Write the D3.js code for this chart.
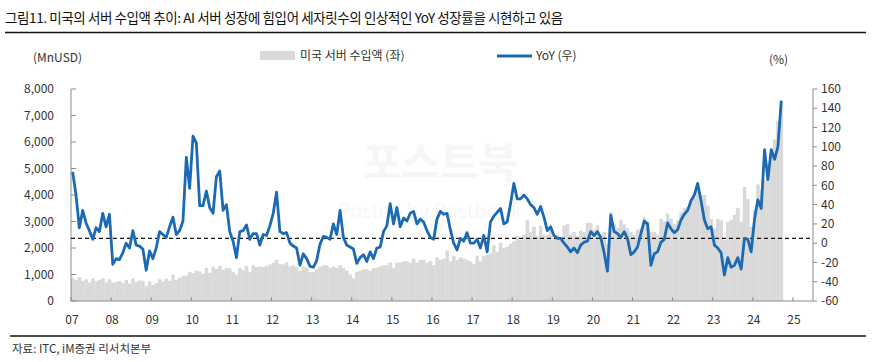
<!DOCTYPE html>
<html>
<head>
<meta charset="utf-8">
<script src="https://cdn.jsdelivr.net/npm/d3@7"></script>
<style>
  body { margin: 0; background: #fff; }
  svg text { font-family: "Noto Sans CJK KR", "Noto Sans", sans-serif; fill: #333; }
</style>
</head>
<body>
<svg id="chart" width="872" height="362"></svg>
<script>
// 월별 미국 서버 수입액 (MnUSD), 2007.01 ~ 2024.09
const importValues = [
  880, 800, 900, 760, 820, 700, 860, 740, 800, 860, 700, 820,        // 07
  700, 720, 760, 680, 800, 660, 860, 720, 780, 760, 560, 740,        // 08
  600, 680, 820, 740, 840, 760, 1000, 800, 880, 940, 960, 1100,      // 09
  1050, 1150, 1120, 1030, 1250, 1060, 1300, 1200, 1320, 1180, 1250, 1230, // 10
  1100, 1000, 1250, 1160, 1320, 1100, 1350, 1280, 1300, 1280, 1330, 1380, // 11
  1450, 1550, 1400, 1380, 1460, 1300, 1350, 1280, 1150, 1300, 1250, 1100, // 12
  1100, 1200, 1300, 1350, 1350, 1250, 1300, 1250, 1350, 1250, 1150, 1000, // 13
  850, 1100, 1150, 1200, 1200, 1150, 1250, 1250, 1300, 1350, 1350, 1450,  // 14
  1250, 1450, 1450, 1500, 1500, 1450, 1600, 1450, 1550, 1550, 1450, 1500, // 15
  1350, 1650, 1550, 1600, 1900, 1500, 1700, 1550, 1650, 1600, 1550, 1500, // 16
  1400, 1700, 1500, 1700, 1750, 1800, 2100, 1850, 2200, 2000, 2050, 2150, // 17
  2250, 2450, 2300, 2500, 3050, 2600, 2800, 2450, 2850, 2500, 2500, 2650, // 18
  2450, 2500, 2400, 2850, 2900, 2500, 2600, 2450, 2650, 2600, 2950, 2950, // 19
  2700, 2850, 2500, 2600, 2150, 3350, 2900, 2750, 3050, 2900, 2750, 2600, // 20
  2500, 2700, 2750, 3150, 3000, 2600, 2600, 2500, 3100, 3000, 3300, 3100, // 21
  2900, 3050, 3350, 3500, 3550, 3700, 3900, 4150, 4000, 4000, 3600, 3100, // 22
  2750, 3100, 3050, 2300, 3000, 3050, 3250, 3500, 3000, 4300, 3850, 2800, // 23
  3450, 4400, 4150, 4550, 5000, 5600, 6100, 6800, 7400                    // 24
];

// YoY (%)
const yoyValues = [
  74, 50, 16, 34, 21, 13, 4, 16, 12, 31, 17, 30,
  -22, -16, -17, -10, 0, -5, 13, -2, -3, -6, -28, -8,
  -16, -5, 12, 9, 6, 17, 27, 9, 13, 23, 89, 57,
  111, 104, 39, 39, 54, 37, 31, 69, 75, 34, 40, 12,
  2, -15, 12, 13, 19, 4, 10, 10, -2, 9, 8, 18,
  31, 53, 12, 10, 11, 0, -3, -5, -23, -11, -16, -24,
  -25, -18, -1, 7, 6, 4, 20, 9, 34, 6, -2, -4,
  -6, -21, -15, -12, -19, -9, -16, -5, -4, 12, 18, 41,
  20, 37, 17, 26, 23, 31, 33, 20, 25, 22, 13, 6,
  4, 25, 33, 30, 31, 14, 0, -7, 5, 2, 11, 0,
  0, 4, -5, 8, -9, 22, 28, 32, 36, 20, 22, 41,
  62, 46, 46, 50, 46, 40, 37, 30, 38, 27, 13, 17,
  8, 5, 5, 0, -4, -9, -5, -10, -2, 1, 2, 12,
  8, 12, 6, -10, -29, 29, 12, 10, 6, 12, 5, -12,
  -9, -4, 10, 23, 20, -23, -11, -9, 1, 4, 21, 15,
  11, 14, 24, 30, 34, 44, 50, 62, 44, 24, 15, 17,
  -2, -5, -10, -33, -15, -25, -23, -15, -27, 5, 4, -9,
  25, 45, 36, 97, 66, 97, 87, 100, 148
];

const yearLabels = ["07","08","09","10","11","12","13","14","15","16","17","18","19","20","21","22","23","24","25"];
const leftTicks = [0, 1000, 2000, 3000, 4000, 5000, 6000, 7000, 8000];
const rightTicks = [-60, -40, -20, 0, 20, 40, 60, 80, 100, 120, 140, 160];
const yoyReference = 5;

const svg = d3.select("#chart");
const plotLeft = 71, plotRight = 813, plotTop = 89, plotBottom = 301;
const barColor = "#d9d9d9", lineColor = "#1b6ab3", axisColor = "#8c8c8c";

// 월 인덱스 기준 (0 = 2007년 1월), 2025년 중반까지
const x = d3.scaleLinear().domain([0, 222]).range([plotLeft, plotRight]);
const yLeft = d3.scaleLinear().domain([0, 8000]).range([plotBottom, plotTop]);
const yRight = d3.scaleLinear().domain([-60, 160]).range([plotBottom, plotTop]);

// 제목 + 구분선
svg.append("text")
    .attr("x", 5).attr("y", 23)
    .style("font-size", "13.5px")
    .style("letter-spacing", "-0.4px")
    .style("fill", "#111")
    .text("그림11. 미국의 서버 수입액 추이: AI 서버 성장에 힘입어 세자릿수의 인상적인 YoY 성장률을 시현하고 있음");
svg.append("line").attr("x1", 5).attr("x2", 866).attr("y1", 32.5).attr("y2", 32.5)
    .attr("stroke", "#111").attr("stroke-width", 1.5);

// 워터마크 (아주 흐리게)
svg.append("text").attr("x", 440).attr("y", 178).attr("text-anchor", "middle")
    .style("font-size", "42px").style("font-weight", "bold").style("fill", "#f6f6f6")
    .text("포스트북");
svg.append("text").attr("x", 430).attr("y", 218).attr("text-anchor", "middle")
    .style("font-size", "20px").style("fill", "#f7f7f7")
    .text("Posted by Postbook");

// 막대
svg.append("g")
    .selectAll("rect")
    .data(importValues)
    .join("rect")
    .attr("x", (d, i) => x(i))
    .attr("width", (d, i) => x(i + 1) - x(i) + 0.2)
    .attr("y", d => yLeft(d))
    .attr("height", d => yLeft(0) - yLeft(d))
    .attr("fill", barColor);

// 축선
const axes = svg.append("g").attr("stroke", axisColor).attr("stroke-width", 1);
axes.append("line").attr("x1", plotLeft).attr("x2", plotLeft).attr("y1", plotTop).attr("y2", plotBottom);
axes.append("line").attr("x1", plotRight).attr("x2", plotRight).attr("y1", plotTop).attr("y2", plotBottom);
axes.append("line").attr("x1", plotLeft).attr("x2", plotRight).attr("y1", plotBottom).attr("y2", plotBottom);

// 왼쪽 축 눈금
leftTicks.forEach(t => {
    axes.append("line").attr("x1", plotLeft).attr("x2", plotLeft + 5)
        .attr("y1", yLeft(t)).attr("y2", yLeft(t));
    svg.append("text").attr("x", 54).attr("y", yLeft(t)).attr("dy", "0.35em")
        .attr("text-anchor", "end").style("font-size", "12px")
        .text(d3.format(",")(t));
});

// 오른쪽 축 눈금
rightTicks.forEach(t => {
    axes.append("line").attr("x1", plotRight).attr("x2", plotRight + 4)
        .attr("y1", yRight(t)).attr("y2", yRight(t));
    svg.append("text").attr("x", 821).attr("y", yRight(t)).attr("dy", "0.35em")
        .style("font-size", "12px")
        .text(t);
});

// x축 (연도)
yearLabels.forEach((lab, i) => {
    const xx = x(i * 12);
    axes.append("line").attr("x1", xx).attr("x2", xx).attr("y1", plotBottom).attr("y2", plotBottom - 4);
    svg.append("text").attr("x", xx + 1).attr("y", 320).attr("dy", "0.35em")
        .attr("text-anchor", "middle").style("font-size", "12px")
        .text(lab);
});

// 점선 기준선
svg.append("line")
    .attr("x1", plotLeft).attr("x2", plotRight)
    .attr("y1", yRight(yoyReference)).attr("y2", yRight(yoyReference))
    .attr("stroke", "#111").attr("stroke-width", 1.2)
    .attr("stroke-dasharray", "4,3");

// YoY 선
const line = d3.line()
    .x((d, i) => x(i + 0.5))
    .y(d => yRight(d));
svg.append("path")
    .datum(yoyValues)
    .attr("d", line)
    .attr("fill", "none")
    .attr("stroke", lineColor)
    .attr("stroke-width", 2.8)
    .attr("stroke-linejoin", "round");

// 단위 + 범례
svg.append("text").attr("x", 33).attr("y", 58).attr("dy", "0.35em")
    .style("font-size", "12px").text("(MnUSD)");
svg.append("text").attr("x", 769).attr("y", 60).attr("dy", "0.35em")
    .style("font-size", "12px").text("(%)");

svg.append("rect").attr("x", 260).attr("y", 51).attr("width", 35).attr("height", 9).attr("fill", barColor);
svg.append("text").attr("x", 300).attr("y", 56).attr("dy", "0.35em")
    .style("font-size", "12px").text("미국 서버 수입액 (좌)");
svg.append("line").attr("x1", 497).attr("x2", 532).attr("y1", 56).attr("y2", 56)
    .attr("stroke", lineColor).attr("stroke-width", 2.8);
svg.append("text").attr("x", 536).attr("y", 56).attr("dy", "0.35em")
    .style("font-size", "12px").text("YoY (우)");

// 하단 구분선 + 출처
svg.append("line").attr("x1", 10).attr("x2", 866).attr("y1", 336).attr("y2", 336)
    .attr("stroke", "#111").attr("stroke-width", 1.5);
svg.append("text").attr("x", 12).attr("y", 349).attr("dy", "0.35em")
    .style("font-size", "11.5px").text("자료: ITC, iM증권 리서치본부");
</script>
</body>
</html>
